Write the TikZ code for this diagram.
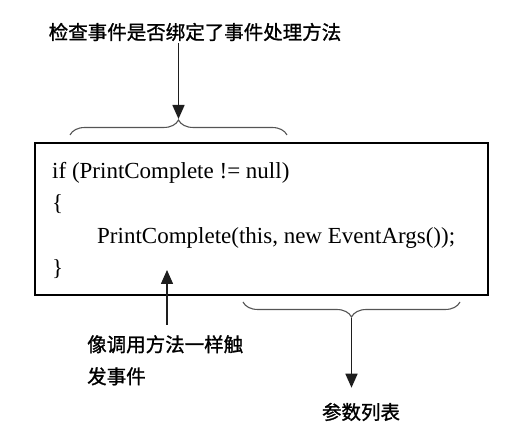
\documentclass[tikz,border=0pt]{standalone}
\usepackage{fontspec}
\setmainfont{Liberation Serif}
\newfontfamily\cjk[FakeBold=1.2]{Noto Sans CJK SC}
\usepackage{tikz}
\usetikzlibrary{arrows.meta,decorations.pathreplacing}
\definecolor{cBrace}{RGB}{85,85,85}
\definecolor{cArrow}{RGB}{30,30,30}

\begin{document}
\begin{tikzpicture}[x=1pt,y=1pt,
  codeline/.style={anchor=base west,inner sep=0pt,font=\fontsize{23}{28}\selectfont},
  cjklabel/.style={inner sep=0pt,font=\cjk\fontsize{19.5}{32}\selectfont},
  arr/.style={cArrow,line width=1.6pt,-{Triangle[width=12pt,length=14pt]}},
  curly/.style={cBrace,line width=1.1pt,decorate,decoration={brace,amplitude=15pt}}]
\useasboundingbox (0,0) rectangle (515,439);
% code box
\draw[line width=1.8pt] (35,144) rectangle (488,296);
\node[codeline] (l1) at (52,260) {if (PrintComplete != null)};
\node[codeline] (l2) at (52,228) {\{};
\node[codeline] (l3) at (97,195) {PrintComplete(this, new EventArgs());};
\node[codeline] (l4) at (52,163) {\}};
% braces
\draw[curly] (70,304) -- (287,304);
\coordinate (btop) at (178.5,320);
\draw[curly] (460,137) -- (243,137);
\coordinate (bbot) at (351.5,121);
\coordinate (hit) at (167,169);
% labels
\node[cjklabel] (check) at (195,407) {检查事件是否绑定了事件处理方法};
\node[cjklabel,anchor=north west,align=left] (fire) at (87,104) {像调用方法一样触\\发事件};
\node[cjklabel] (params) at (361,27) {参数列表};
% arrows
\draw[arr,shorten <=2pt] (btop |- check.south) -- (btop);
\draw[arr,shorten <=10pt] (hit |- fire.north) -- (hit);
\draw[arr,shorten >=15pt] (bbot) -- (bbot |- params.north);
\end{tikzpicture}
\end{document}
